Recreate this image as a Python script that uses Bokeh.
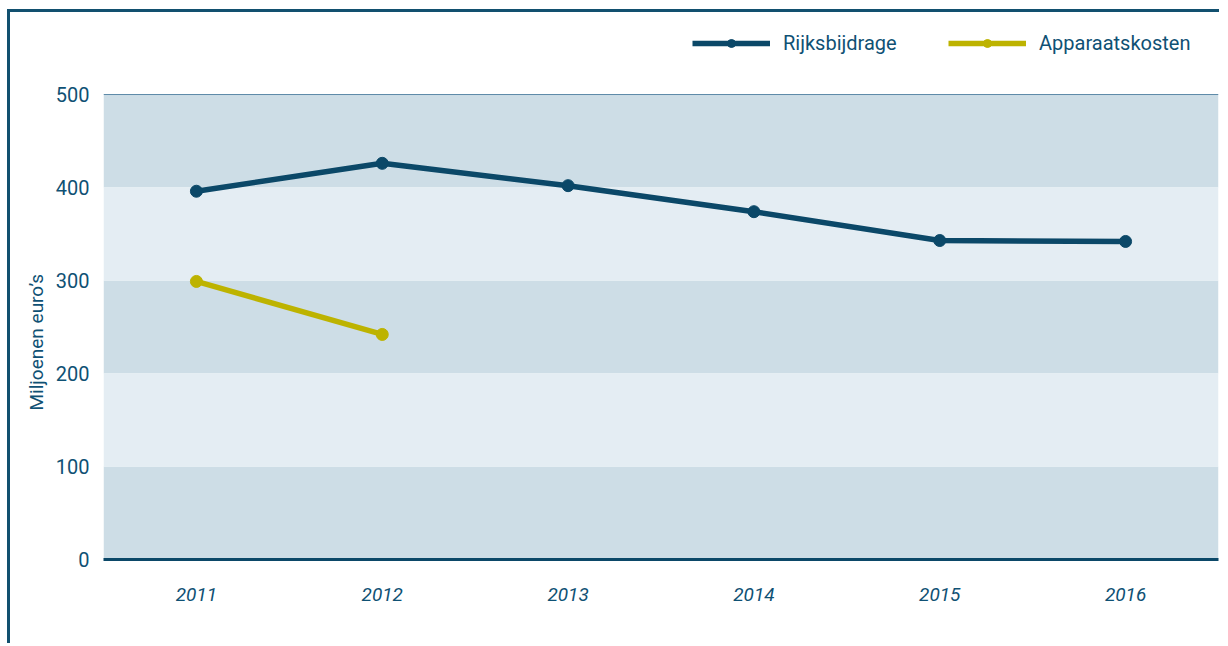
from bokeh.plotting import figure
from bokeh.models import (Range1d, FactorRange, FixedTicker, Span, Legend, LegendItem, Title, BoxAnnotation)
from bokeh.embed import file_html
from bokeh.resources import INLINE

years = ["2011", "2012", "2013", "2014", "2015", "2016"]
rijks = [396, 426, 402, 374, 343, 342]
app_years = ["2011", "2012"]
app = [299, 242]
y_ticks = [0, 100, 200, 300, 400, 500]
band_dark = [(0, 100), (200, 300), (400, 500)]
band_light = [(100, 200), (300, 400)]

DARK = "#0b4868"
YEL = "#bdb300"
TXT = "#0f5174"
FONT = "Roboto"

p = figure(width=1212, height=634, x_range=FactorRange(*years), y_range=Range1d(0, 583.9),
           output_backend="svg", toolbar_location=None,
           min_border_left=93, min_border_top=4, min_border_right=4, min_border_bottom=87)
p.styles = {"border-left": "3px solid #12506f", "border-top": "3px solid #12506f",
            "margin-left": "7px", "margin-top": "9px"}
p.outline_line_color = None
p.background_fill_color = "white"
p.border_fill_color = "white"
p.xgrid.grid_line_color = None
p.ygrid.grid_line_color = None

for b, t in band_dark:
    p.add_layout(BoxAnnotation(bottom=b, top=t, fill_color="#cddde6", fill_alpha=1, line_color=None, level="underlay"))
for b, t in band_light:
    p.add_layout(BoxAnnotation(bottom=b, top=t, fill_color="#e4edf3", fill_alpha=1, line_color=None, level="underlay"))

p.yaxis.ticker = FixedTicker(ticks=y_ticks)
p.yaxis.axis_line_color = None
p.yaxis.major_tick_line_color = None
p.yaxis.minor_tick_line_color = None
p.yaxis.major_label_standoff = 8
p.yaxis.major_label_text_font = FONT
p.yaxis.major_label_text_font_size = "20px"
p.yaxis.major_label_text_color = TXT

p.xaxis.axis_line_color = DARK
p.xaxis.axis_line_width = 3
p.xaxis.major_tick_line_color = None
p.xaxis.major_label_standoff = 22
p.xaxis.major_label_text_font = FONT
p.xaxis.major_label_text_font_style = "italic"
p.xaxis.major_label_text_font_size = "19px"
p.xaxis.major_label_text_color = TXT

p.add_layout(Span(location=500, dimension="width", line_color="#5d8aa8", line_width=1))

r1 = p.line(years, rijks, line_color=DARK, line_width=5.5)
s1 = p.scatter(years, rijks, size=12, color=DARK)
r2 = p.line(app_years, app, line_color=YEL, line_width=5.5)
s2 = p.scatter(app_years, app, size=12, color=YEL)

legend = Legend(items=[LegendItem(label="Rijksbijdrage", renderers=[r1, s1]),
                       LegendItem(label="Apparaatskosten", renderers=[r2, s2])],
                location=(589, 504), orientation="horizontal",
                glyph_width=78, glyph_height=20, label_height=20, label_width=165,
                label_standoff=13, spacing=0, padding=0, margin=0,
                background_fill_alpha=0, border_line_color=None,
                label_text_font=FONT, label_text_font_size="20px", label_text_color=TXT)
p.add_layout(legend)

p.add_layout(Title(text="Miljoenen euro\u2019s", align="left", offset=149,
                   text_font=FONT, text_font_size="19px", text_font_style="normal",
                   text_color=TXT), "left")

open("out.html", "w").write(file_html(p, INLINE))
